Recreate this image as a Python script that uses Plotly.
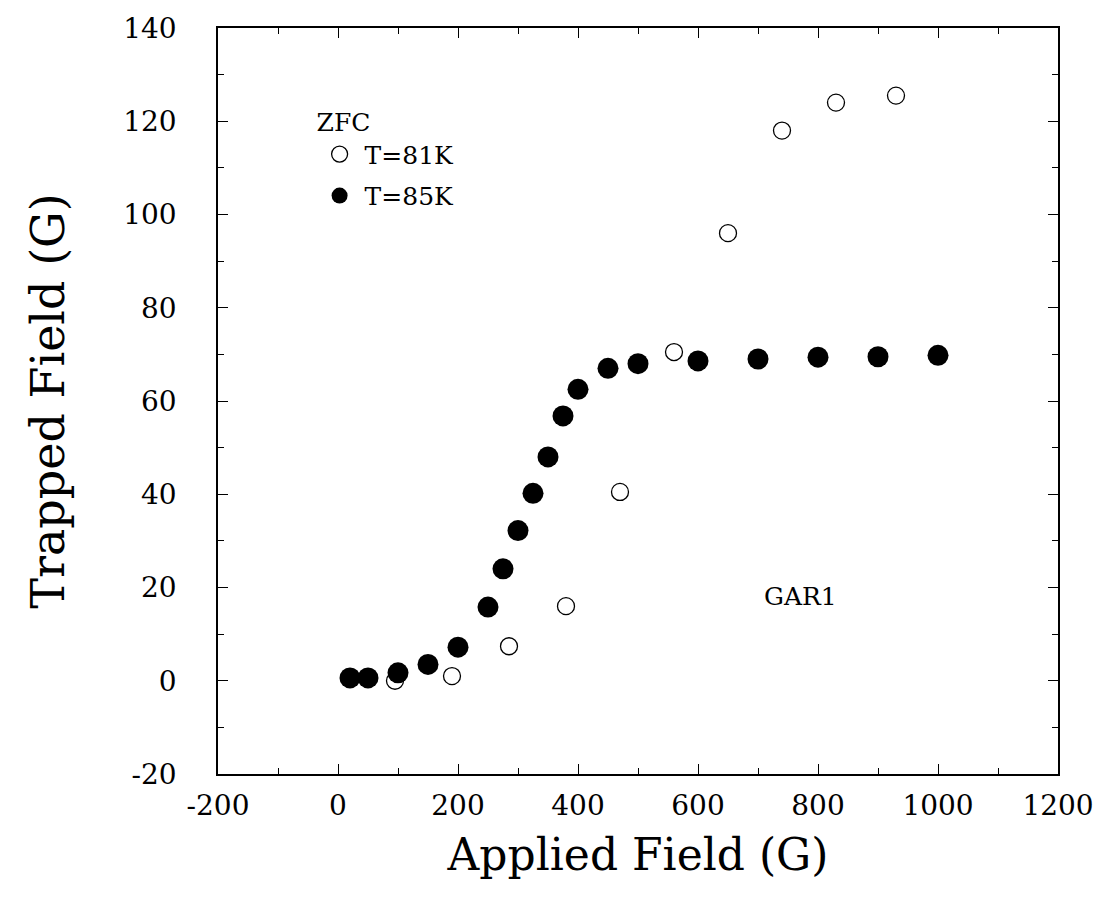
import plotly.graph_objects as go

# Data (Applied Field in G, Trapped Field in G)
x_85K = [20, 50, 100, 150, 200, 250, 275, 300, 325, 350, 375, 400, 450, 500, 600, 700, 800, 900, 1000]
y_85K = [0.6, 0.6, 1.7, 3.5, 7.2, 15.8, 24.0, 32.2, 40.2, 48.0, 56.8, 62.5, 67.0, 68.0, 68.6, 69.0, 69.4, 69.5, 69.8]

x_81K = [95, 190, 285, 380, 470, 560, 650, 740, 830, 930]
y_81K = [0.0, 1.0, 7.4, 16.0, 40.5, 70.5, 96.0, 118.0, 124.0, 125.5]

x_ticks = [-200, 0, 200, 400, 600, 800, 1000, 1200]
y_ticks = [-20, 0, 20, 40, 60, 80, 100, 120, 140]

FONT = "DejaVu Serif"

fig = go.Figure()
fig.add_trace(go.Scatter(
    x=x_81K, y=y_81K, mode="markers", name="T=81K", legendgroup="a",
    marker=dict(symbol="circle-open", size=17, color="black", line=dict(width=1.3)),
))
fig.add_trace(go.Scatter(
    x=x_85K, y=y_85K, mode="markers", name="T=85K", legendgroup="b",
    marker=dict(symbol="circle", size=21, color="black"),
))

fig.add_annotation(x=770, y=18, text="GAR1", showarrow=False,
                   font=dict(family=FONT, size=25, color="black"))

axis_common = dict(
    showgrid=False, zeroline=False, showline=True, linecolor="black", linewidth=1.5,
    mirror="allticks", ticks="inside", ticklen=10, tickcolor="black", tickwidth=1.2,
    tickfont=dict(family=FONT, size=28, color="black"),
)

fig.update_xaxes(
    range=[-200, 1200], tickvals=x_ticks, ticktext=[str(v) for v in x_ticks],
    ticklabelstandoff=6,
    title=dict(text="Applied Field (G)", font=dict(family=FONT, size=44, color="black"), standoff=18),
    minor=dict(dtick=100, ticks="inside", ticklen=6, tickcolor="black", tickwidth=1),
    **axis_common,
)
fig.update_yaxes(
    range=[-20, 140], tickvals=y_ticks, ticktext=[str(v) for v in y_ticks],
    ticklabelstandoff=34,
    title=dict(text="Trapped Field (G)", font=dict(family=FONT, size=46, color="black"), standoff=44),
    minor=dict(dtick=10, ticks="inside", ticklen=6, tickcolor="black", tickwidth=1),
    **axis_common,
)

fig.update_layout(
    width=1116, height=912,
    margin=dict(l=218, r=58, t=18, b=138),
    paper_bgcolor="white", plot_bgcolor="white",
    font=dict(family=FONT, color="black"),
    legend=dict(
        title=dict(text="ZFC", font=dict(family=FONT, size=25, color="black")),
        x=0.115, y=0.905, xanchor="left", yanchor="top",
        font=dict(family=FONT, size=25, color="black"),
        bgcolor="rgba(0,0,0,0)", itemsizing="trace", itemwidth=40,
        traceorder="grouped", tracegroupgap=6,
    ),
)

fig.write_html("out.html")
